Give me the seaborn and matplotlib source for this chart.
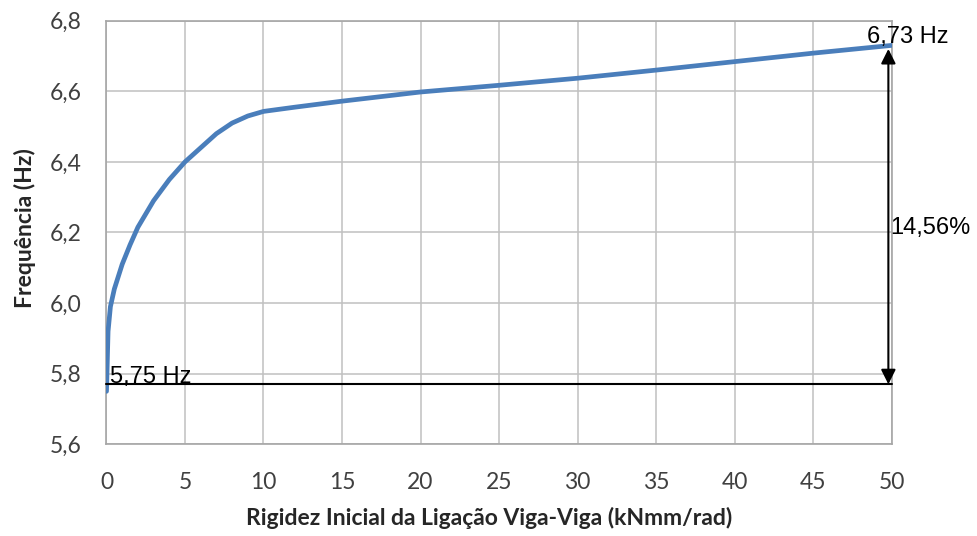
import matplotlib
matplotlib.use("Agg")
import matplotlib.pyplot as plt
import seaborn as sns
import pandas as pd

# Data
rigidez = [0, 0.1, 0.25, 0.5, 1.0, 1.5, 2.0, 3.0, 4.0, 5.0, 6.0, 7.0, 8.0, 9.0,
           10, 12, 15, 20, 25, 30, 35, 40, 45, 50]
frequencia = [5.75, 5.92, 5.99, 6.04, 6.11, 6.165, 6.215, 6.29, 6.35, 6.40, 6.44,
              6.48, 6.51, 6.53, 6.543, 6.555, 6.572, 6.598, 6.617, 6.637, 6.66,
              6.684, 6.708, 6.73]
xticks = [0, 5, 10, 15, 20, 25, 30, 35, 40, 45, 50]
xtick_labels = ["0", "5", "10", "15", "20", "25", "30", "35", "40", "45", "50"]
yticks = [5.6, 5.8, 6.0, 6.2, 6.4, 6.6, 6.8]
ytick_labels = ["5,6", "5,8", "6,0", "6,2", "6,4", "6,6", "6,8"]
f_min = 5.77
f_max = 6.72
label_min = "5,75 Hz"
label_max = "6,73 Hz"
label_pct = "14,56%"

df = pd.DataFrame({"k": rigidez, "f": frequencia})

sns.set_theme(style="white")
plt.rcParams["font.family"] = ["Lato", "DejaVu Sans"]

fig = plt.figure(figsize=(9.77, 5.36), dpi=100)
ax = fig.add_axes([0.109, 0.1711, 0.8035, 0.7903])

sns.lineplot(data=df, x="k", y="f", ax=ax, color="#4a7ebb", linewidth=3.4,
             solid_capstyle="round", zorder=3)

ax.set_xlim(0, 50)
ax.set_ylim(5.6, 6.8)
ax.set_xticks(xticks)
ax.set_xticklabels(xtick_labels)
ax.set_yticks(yticks)
ax.set_yticklabels(ytick_labels)
ax.grid(True, color="#c0c0c0", linewidth=1.1)
for s in ax.spines.values():
    s.set_color("#a6a6a6")
    s.set_linewidth(1.2)
ax.tick_params(axis="both", length=0, labelsize=16.5, labelcolor="#404040")
ax.tick_params(axis="y", pad=18)
ax.tick_params(axis="x", pad=20)

ax.set_xlabel("Rigidez Inicial da Ligação Viga-Viga (kNmm/rad)", fontsize=16.5,
              fontweight="bold", color="#262626")
ax.set_ylabel("Frequência (Hz)", fontsize=16.5, fontweight="bold", color="#262626")
ax.xaxis.set_label_coords(0.487, -0.175)
ax.xaxis.label.set_va("center")
ax.yaxis.set_label_coords(-0.104, 0.51)
ax.yaxis.label.set_va("center")

# Reference line at minimum frequency
ax.plot([0, 50], [f_min, f_min], color="black", linewidth=1.5, zorder=4,
        clip_on=False)
# Double arrow
ax.annotate("", xy=(49.8, f_max), xytext=(49.8, f_min),
            arrowprops=dict(arrowstyle="<|-|>", color="black", lw=1.5,
                            mutation_scale=22, shrinkA=0, shrinkB=0),
            zorder=5, annotation_clip=False)

txt_font = dict(family=["Liberation Sans", "DejaVu Sans"], fontsize=17, color="black")
ax.text(0.25, 5.773, label_min, ha="left", va="baseline", **txt_font)
ax.text(48.45, 6.736, label_max, ha="left", va="baseline", clip_on=False, **txt_font)
ax.text(49.95, 6.195, label_pct, ha="left", va="baseline", clip_on=False, **txt_font)

fig.savefig("out.png", dpi=100, facecolor="white")
